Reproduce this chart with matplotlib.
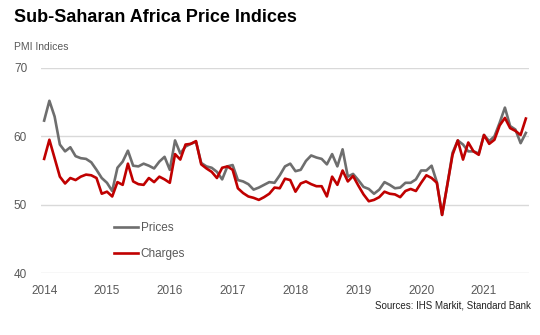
import numpy as np
import matplotlib
matplotlib.use("Agg")
import matplotlib.pyplot as plt

plt.rcParams["font.family"] = ["Liberation Sans", "DejaVu Sans"]

# monthly, Jan 2014 .. Sep 2021
years = [2014, 2015, 2016, 2017, 2018, 2019, 2020, 2021]
prices = [
    62.3, 65.2, 62.9, 58.8, 57.8, 58.4, 57.1, 56.8, 56.7, 56.2, 55.1, 53.9,
    53.2, 52.0, 55.4, 56.3, 57.9, 55.7, 55.6, 56.0, 55.7, 55.3, 56.3, 57.0,
    55.1, 59.4, 57.5, 58.5, 58.9, 59.2, 56.1, 55.6, 55.4, 54.8, 53.7, 55.6,
    55.8, 53.6, 53.4, 53.0, 52.2, 52.5, 52.9, 53.3, 53.2, 54.3, 55.6, 56.0,
    54.9, 55.1, 56.4, 57.2, 56.9, 56.7, 55.9, 57.4, 55.6, 58.1, 54.1, 54.5,
    53.6, 52.6, 52.3, 51.6, 52.2, 53.3, 52.9, 52.4, 52.5, 53.2, 53.2, 53.7,
    55.0, 55.0, 55.7, 53.3, 48.5, 52.9, 57.6, 59.4, 58.8, 57.8, 57.8, 57.5,
    60.2, 59.3, 60.0, 62.0, 64.2, 61.5, 61.0, 59.0, 60.5,
]
charges = [
    56.7, 59.5, 56.8, 54.1, 53.1, 53.9, 53.6, 54.1, 54.4, 54.3, 53.9, 51.6,
    51.9, 51.2, 53.3, 52.9, 56.0, 53.4, 53.0, 52.9, 53.9, 53.3, 54.1, 53.7,
    53.2, 57.4, 56.6, 58.8, 58.9, 59.3, 55.9, 55.3, 54.8, 53.9, 55.4, 55.6,
    55.1, 52.4, 51.7, 51.2, 51.0, 50.7, 51.1, 51.6, 52.5, 52.4, 53.8, 53.6,
    51.9, 53.1, 53.4, 53.0, 52.7, 52.7, 51.2, 54.1, 52.9, 55.0, 53.4, 54.2,
    52.8, 51.5, 50.5, 50.7, 51.1, 51.9, 51.6, 51.5, 51.1, 52.0, 52.3, 52.0,
    53.2, 54.3, 53.9, 53.2, 48.5, 52.9, 57.3, 59.4, 56.6, 59.1, 57.8, 57.3,
    60.2, 58.9, 59.5, 61.6, 62.7, 61.2, 60.8, 60.2, 62.6,
]
yticks = [40, 50, 60, 70]

x = np.arange(len(prices))

fig = plt.figure(figsize=(5.4, 3.35), dpi=100, facecolor="white")
ax = fig.add_axes([41/540, 62/335, 488/540, 205/335])

ax.plot(x, prices, color="#6e6e6e", lw=1.9, label="Prices", solid_joinstyle="round")
ax.plot(x, charges, color="#c00000", lw=1.9, label="Charges", solid_joinstyle="round")

ax.set_ylim(40, 70)
ax.set_yticks(yticks)
ax.set_xlim(-0.6, len(prices) - 1 + 0.6)
ax.set_xticks([12 * i for i in range(len(years))])
ax.set_xticklabels([str(y) for y in years])

ax.grid(axis="y", color="#d9d9d9", lw=1)
ax.set_axisbelow(True)
for s in ax.spines.values():
    s.set_visible(False)
ax.tick_params(length=0, colors="#595959", labelsize=8.5)
ax.tick_params(axis="y", pad=10)
ax.tick_params(axis="x", pad=9)

leg = ax.legend(loc="upper left", bbox_to_anchor=(0.15, 0.25), frameon=False,
                borderpad=0, borderaxespad=0, handlelength=2.0, handletextpad=0.25,
                labelspacing=1.2, fontsize=8.5)
for t in leg.get_texts():
    t.set_color("#595959")

fig.text(14/540, 1 - 18/335, "Sub-Saharan Africa Price Indices", fontsize=13,
         fontweight="bold", va="center", ha="left", color="black")
fig.text(14/540, 1 - 47/335, "PMI Indices", fontsize=7.5, va="center", ha="left", color="#595959")
fig.text(531/540, 1 - 305/335, "Sources: IHS Markit, Standard Bank", fontsize=7,
         va="center", ha="right", color="#222222")

fig.savefig("out.png", dpi=100)
